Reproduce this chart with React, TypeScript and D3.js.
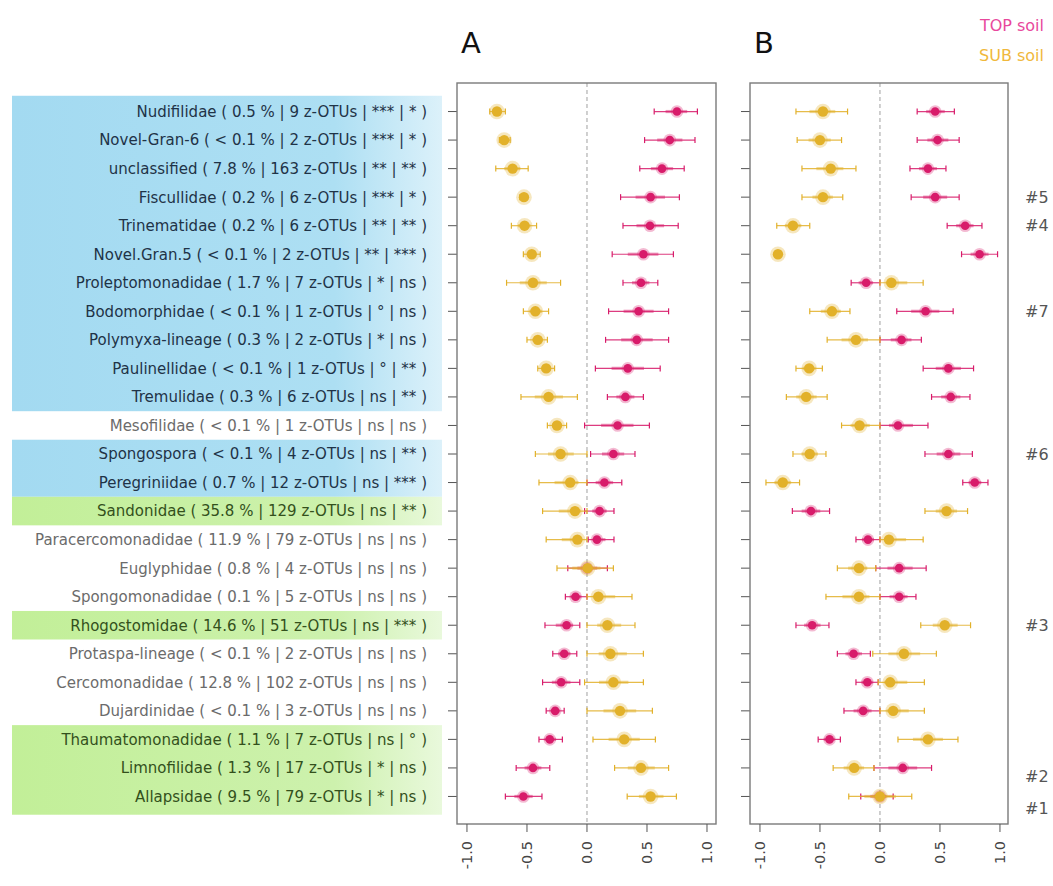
import React from "react";
import * as d3 from "d3";

// ---------- data ----------
const labels = [
  "Nudifilidae ( 0.5 % | 9 z-OTUs | *** | * )",
  "Novel-Gran-6 ( < 0.1 % | 2 z-OTUs | *** | * )",
  "unclassified ( 7.8 % | 163 z-OTUs | ** | ** )",
  "Fiscullidae ( 0.2 % | 6 z-OTUs | *** | * )",
  "Trinematidae ( 0.2 % | 6 z-OTUs | ** | ** )",
  "Novel.Gran.5 ( < 0.1 % | 2 z-OTUs | ** | *** )",
  "Proleptomonadidae ( 1.7 % | 7 z-OTUs | * | ns )",
  "Bodomorphidae ( < 0.1 % | 1 z-OTUs | ° | ns )",
  "Polymyxa-lineage ( 0.3 % | 2 z-OTUs | * | ns )",
  "Paulinellidae ( < 0.1 % | 1 z-OTUs | ° | ** )",
  "Tremulidae ( 0.3 % | 6 z-OTUs | ns | ** )",
  "Mesofilidae ( < 0.1 % | 1 z-OTUs | ns | ns )",
  "Spongospora ( < 0.1 % | 4 z-OTUs | ns | ** )",
  "Peregriniidae ( 0.7 % | 12 z-OTUs | ns | *** )",
  "Sandonidae ( 35.8 % | 129 z-OTUs | ns | ** )",
  "Paracercomonadidae ( 11.9 % | 79 z-OTUs | ns | ns )",
  "Euglyphidae ( 0.8 % | 4 z-OTUs | ns | ns )",
  "Spongomonadidae ( 0.1 % | 5 z-OTUs | ns | ns )",
  "Rhogostomidae ( 14.6 % | 51 z-OTUs | ns | *** )",
  "Protaspa-lineage ( < 0.1 % | 2 z-OTUs | ns | ns )",
  "Cercomonadidae ( 12.8 % | 102 z-OTUs | ns | ns )",
  "Dujardinidae ( < 0.1 % | 3 z-OTUs | ns | ns )",
  "Thaumatomonadidae ( 1.1 % | 7 z-OTUs | ns | ° )",
  "Limnofilidae ( 1.3 % | 17 z-OTUs | * | ns )",
  "Allapsidae ( 9.5 % | 79 z-OTUs | * | ns )",
];
// highlight group per row: b = blue, g = green, "" = none
const highlight = ["b","b","b","b","b","b","b","b","b","b","b","","b","b","g","","","","g","","","","g","g","g"];

// Panel A
const topMeanA = [0.75, 0.69, 0.625, 0.53, 0.525, 0.47, 0.45, 0.43, 0.415, 0.34, 0.32, 0.255, 0.22, 0.145, 0.105, 0.083, 0.0, -0.095, -0.17, -0.19, -0.215, -0.265, -0.31, -0.45, -0.53];
const topLoA = [0.56, 0.48, 0.44, 0.28, 0.30, 0.21, 0.30, 0.18, 0.155, 0.07, 0.17, -0.02, 0.03, 0.0, -0.02, 0.01, -0.16, -0.18, -0.35, -0.285, -0.37, -0.34, -0.40, -0.59, -0.68];
const topHiA = [0.92, 0.90, 0.81, 0.77, 0.76, 0.72, 0.59, 0.68, 0.68, 0.61, 0.47, 0.52, 0.40, 0.29, 0.225, 0.225, 0.17, 0.0, -0.06, -0.085, -0.06, -0.19, -0.205, -0.31, -0.375];
const subMeanA = [-0.75, -0.69, -0.62, -0.525, -0.52, -0.46, -0.45, -0.43, -0.41, -0.34, -0.32, -0.25, -0.22, -0.14, -0.10, -0.08, 0.005, 0.095, 0.17, 0.195, 0.22, 0.275, 0.31, 0.45, 0.53];
const subLoA = [-0.81, -0.73, -0.76, -0.56, -0.63, -0.53, -0.67, -0.53, -0.50, -0.41, -0.55, -0.33, -0.43, -0.40, -0.37, -0.34, -0.25, 0.0, 0.0, 0.0, -0.02, 0.0, 0.05, 0.23, 0.335];
const subHiA = [-0.68, -0.64, -0.49, -0.50, -0.42, -0.39, -0.22, -0.32, -0.33, -0.27, -0.08, -0.17, 0.0, 0.0, 0.0, 0.0, 0.22, 0.375, 0.40, 0.47, 0.47, 0.545, 0.57, 0.68, 0.745];

// Panel B
const topMeanB = [0.46, 0.48, 0.40, 0.46, 0.71, 0.83, -0.115, 0.38, 0.18, 0.57, 0.59, 0.15, 0.57, 0.79, -0.575, -0.10, 0.16, 0.16, -0.565, -0.22, -0.105, -0.14, -0.42, 0.19, 0.0];
const topLoB = [0.31, 0.31, 0.25, 0.26, 0.56, 0.68, -0.24, 0.14, 0.0, 0.36, 0.43, 0.0, 0.375, 0.69, -0.73, -0.20, -0.035, 0.0, -0.70, -0.355, -0.20, -0.30, -0.515, -0.05, -0.16];
const topHiB = [0.62, 0.66, 0.55, 0.66, 0.85, 0.98, 0.0, 0.61, 0.345, 0.78, 0.75, 0.40, 0.77, 0.90, -0.42, 0.0, 0.385, 0.30, -0.425, -0.08, -0.015, 0.0, -0.33, 0.43, 0.11];
const subMeanB = [-0.475, -0.50, -0.41, -0.475, -0.725, -0.85, 0.095, -0.40, -0.20, -0.59, -0.615, -0.17, -0.585, -0.81, 0.555, 0.075, -0.175, -0.175, 0.54, 0.20, 0.085, 0.11, 0.40, -0.215, 0.0];
const subLoB = [-0.70, -0.69, -0.65, -0.65, -0.86, -0.87, 0.0, -0.585, -0.44, -0.70, -0.78, -0.32, -0.725, -0.95, 0.375, 0.0, -0.355, -0.45, 0.34, -0.06, -0.015, 0.0, 0.15, -0.39, -0.26];
const subHiB = [-0.27, -0.32, -0.20, -0.31, -0.585, -0.83, 0.36, -0.25, 0.0, -0.48, -0.44, 0.0, -0.45, -0.67, 0.73, 0.36, -0.035, 0.0, 0.755, 0.47, 0.37, 0.37, 0.65, -0.05, 0.265];

const xTicks = [-1.0, -0.5, 0.0, 0.5, 1.0];
const xTickLabels = ["-1.0", "-0.5", "0.0", "0.5", "1.0"];
const panelTitles = ["A", "B"];
const legendLabels = ["TOP soil", "SUB soil"];
const clusterLabels = ["#5", "#4", "#7", "#6", "#3", "#2", "#1"];
const clusterRows = [3, 4, 7, 12, 18, 23.3, 24.4];

// ---------- styling ----------
const PINK = "#d81b6a";
const ORANGE = "#e2b12a";
const FONT = "'DejaVu Sans', Verdana, sans-serif";
const N = labels.length;

const y = d3.scaleLinear().domain([0, N + 1]).range([825, 83]);
const rowY = (i: number) => y(N - i);
const pitch = y(0) - y(1);

const xA = d3.scaleLinear().domain([-1.083, 1.075]).range([457, 716]);
const xB = d3.scaleLinear().domain([-1.083, 1.067]).range([750, 1008]);

type Series = { mean: number[]; lo: number[]; hi: number[]; color: string; r: number; halo: number };

function Marks({ x, s }: { x: d3.ScaleLinear<number, number>; s: Series }) {
  return (
    <g>
      {s.mean.map((m, i) => {
        const cy = rowY(i);
        const lo = x(s.lo[i]);
        const hi = x(s.hi[i]);
        const cx = x(m);
        const inLo = cx - (cx - lo) * 0.5;
        const inHi = cx + (hi - cx) * 0.5;
        return (
          <g key={i}>
            <line x1={lo} x2={hi} y1={cy} y2={cy} stroke={s.color} strokeWidth={1.2} opacity={0.85} />
            <line x1={inLo} x2={inHi} y1={cy} y2={cy} stroke={s.color} strokeWidth={3.2} opacity={0.45} />
            <line x1={lo} x2={lo} y1={cy - 3} y2={cy + 3} stroke={s.color} strokeWidth={1.2} />
            <line x1={hi} x2={hi} y1={cy - 3} y2={cy + 3} stroke={s.color} strokeWidth={1.2} />
            <circle cx={cx} cy={cy} r={s.halo} fill={s.color} opacity={0.3} />
            <circle cx={cx} cy={cy} r={s.r} fill={s.color} />
          </g>
        );
      })}
    </g>
  );
}

function Panel({ x, top, sub, title }: { x: d3.ScaleLinear<number, number>; top: Series; sub: Series; title: string }) {
  const [x0, x1] = x.range();
  const yTop = 83;
  const yBot = 824;
  return (
    <g>
      <text x={x0 + 4} y={53} fontSize={29} fontFamily={FONT} fill="#111">{title}</text>
      <line x1={x(0)} x2={x(0)} y1={yTop} y2={yBot} stroke="#b0b0b0" strokeWidth={1.2} strokeDasharray="4,3" />
      {labels.map((_, i) => (
        <line key={i} x1={x0 - 9} x2={x0} y1={rowY(i)} y2={rowY(i)} stroke="#555" strokeWidth={1} />
      ))}
      <Marks x={x} s={top} />
      <Marks x={x} s={sub} />
      <rect x={x0} y={yTop} width={x1 - x0} height={yBot - yTop} fill="none" stroke="#7a7a7a" strokeWidth={1.4} />
      {xTicks.map((t, i) => (
        <g key={i}>
          <line x1={x(t)} x2={x(t)} y1={yBot} y2={yBot + 8} stroke="#555" strokeWidth={1} />
          <text
            transform={`translate(${x(t) + 5},${841}) rotate(-90)`}
            textAnchor="end"
            fontSize={14.5}
            fontFamily={FONT}
            fill="#444"
          >
            {xTickLabels[i]}
          </text>
        </g>
      ))}
    </g>
  );
}

export default function App() {
  const bands: { start: number; end: number; g: string }[] = [];
  highlight.forEach((h, i) => {
    if (!h) return;
    const last = bands[bands.length - 1];
    if (last && last.g === h && last.end === i - 1) last.end = i;
    else bands.push({ start: i, end: i, g: h });
  });
  const labelColor = (h: string) => (h === "b" ? "#1f3347" : h === "g" ? "#33501c" : "#6b6b6b");

  return (
    <svg width={1053} height={886} style={{ position: "absolute", left: 0, top: 0, background: "#fff" }}>
      <defs>
        <linearGradient id="gBlue" x1="0" x2="1" y1="0" y2="0">
          <stop offset="0" stopColor="#a3daf1" />
          <stop offset="0.75" stopColor="#addff3" />
          <stop offset="1" stopColor="#dcf1fa" />
        </linearGradient>
        <linearGradient id="gGreen" x1="0" x2="1" y1="0" y2="0">
          <stop offset="0" stopColor="#c2ef98" />
          <stop offset="0.75" stopColor="#cdf1ad" />
          <stop offset="1" stopColor="#e9f9dc" />
        </linearGradient>
      </defs>
      {bands.map((b, k) => {
        const yy0 = rowY(b.start) - pitch / 2 - (b.start === 0 ? 1.5 : 0);
        const yy1 = rowY(b.end) + pitch / 2 + (b.end === N - 1 ? 4 : 0);
        return (
          <rect key={k} x={12} y={yy0} width={430} height={yy1 - yy0} fill={b.g === "b" ? "url(#gBlue)" : "url(#gGreen)"} />
        );
      })}
      {labels.map((l, i) => (
        <text key={i} x={427} y={rowY(i)} dy="0.36em" textAnchor="end" fontSize={15} fontFamily={FONT} fill={labelColor(highlight[i])}>
          {l}
        </text>
      ))}
      <Panel
        x={xA}
        title={panelTitles[0]}
        top={{ mean: topMeanA, lo: topLoA, hi: topHiA, color: PINK, r: 4.3, halo: 6.3 }}
        sub={{ mean: subMeanA, lo: subLoA, hi: subHiA, color: ORANGE, r: 5.2, halo: 7.8 }}
      />
      <Panel
        x={xB}
        title={panelTitles[1]}
        top={{ mean: topMeanB, lo: topLoB, hi: topHiB, color: PINK, r: 4.3, halo: 6.3 }}
        sub={{ mean: subMeanB, lo: subLoB, hi: subHiB, color: ORANGE, r: 5.2, halo: 7.8 }}
      />
      <text x={1044} y={31} textAnchor="end" fontSize={16} fontFamily={FONT} fill="#e8489c">{legendLabels[0]}</text>
      <text x={1044} y={61} textAnchor="end" fontSize={16} fontFamily={FONT} fill="#f0b83c">{legendLabels[1]}</text>
      {clusterLabels.map((c, k) => (
        <text key={k} x={1025} y={rowY(clusterRows[k])} dy="0.36em" fontSize={16} fontFamily={FONT} fill="#555">
          {c}
        </text>
      ))}
    </svg>
  );
}
